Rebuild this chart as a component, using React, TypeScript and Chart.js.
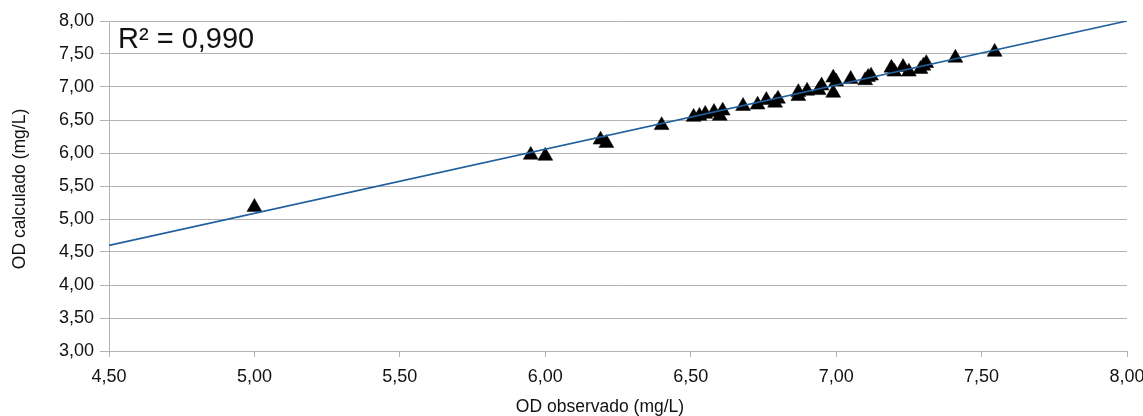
import { useEffect, useRef } from "react";
import { Chart, registerables } from "chart.js";

Chart.register(...registerables);

const observed = [
  5.0, 5.95, 6.0, 6.19, 6.21, 6.4, 6.51, 6.53, 6.55, 6.58, 6.61, 6.6, 6.68, 6.73, 6.76, 6.8, 6.79,
  6.87, 6.9, 6.87, 6.95, 6.94, 6.99, 7.0, 6.99, 7.05, 7.11, 7.12, 7.1, 7.19, 7.23, 7.25, 7.2, 7.3,
  7.31, 7.29, 7.41, 7.545,
];
const calculated = [
  5.18, 5.97, 5.955, 6.2, 6.15, 6.42, 6.545, 6.56, 6.59, 6.62, 6.64, 6.56, 6.71, 6.73, 6.8, 6.82, 6.76,
  6.92, 6.94, 6.86, 7.02, 6.95, 7.14, 7.08, 6.91, 7.12, 7.15, 7.17, 7.1, 7.29, 7.3, 7.23, 7.23, 7.32,
  7.36, 7.27, 7.44, 7.53,
];
const trendX = [4.5, 8.0];
const trendY = [4.6, 8.0];
const xTickValues = [4.5, 5.0, 5.5, 6.0, 6.5, 7.0, 7.5, 8.0];
const yTickValues = [3.0, 3.5, 4.0, 4.5, 5.0, 5.5, 6.0, 6.5, 7.0, 7.5, 8.0];
const rSquaredLabel = "R² = 0,990";
const xTitle = "OD observado (mg/L)";
const yTitle = "OD calculado (mg/L)";

const FONT = "'Liberation Sans', Arial, sans-serif";
const TEXT = "#111111";
const GRID = "#b3b3b3";

const fmt = (v: number) => v.toFixed(2).replace(".", ",");

const textPlugin = {
  id: "textPlugin",
  afterDraw(chart: any) {
    const ctx = chart.ctx as CanvasRenderingContext2D;
    const area = chart.chartArea;
    ctx.save();
    ctx.fillStyle = TEXT;
    ctx.textBaseline = "alphabetic";
    ctx.textAlign = "left";
    ctx.font = `29px ${FONT}`;
    ctx.fillText(rSquaredLabel, area.left + 9, area.top + 27);
    ctx.font = `17.5px ${FONT}`;
    ctx.textAlign = "center";
    ctx.fillText(xTitle, 600, 412);
    ctx.translate(25, 189);
    ctx.rotate(-Math.PI / 2);
    ctx.fillText(yTitle, 0, 0);
    ctx.restore();
  },
};

export default function App() {
  const ref = useRef<HTMLCanvasElement | null>(null);

  useEffect(() => {
    if (!ref.current) return;
    const chart = new Chart(ref.current, {
      type: "scatter",
      data: {
        datasets: [
          {
            type: "line",
            label: "Tendência",
            data: trendX.map((x, i) => ({ x, y: trendY[i] })),
            borderColor: "#22609e",
            borderWidth: 1.7,
            pointRadius: 0,
            fill: false,
            tension: 0,
          },
          {
            label: "OD",
            data: observed.map((x, i) => ({ x, y: calculated[i] })),
            pointStyle: "triangle",
            pointRadius: 8.6,
            pointBackgroundColor: "#000000",
            pointBorderColor: "#000000",
            pointBorderWidth: 0.5,
          },
        ],
      } as any,
      options: {
        animation: false,
        responsive: false,
        devicePixelRatio: 1,
        layout: { padding: { top: 21, right: 16, left: 0, bottom: 0 } },
        plugins: {
          legend: { display: false },
          tooltip: { enabled: false },
          title: { display: false },
        },
        scales: {
          x: {
            type: "linear",
            min: 4.5,
            max: 8.0,
            afterBuildTicks: (s: any) => {
              s.ticks = xTickValues.map((v) => ({ value: v }));
            },
            afterFit: (s: any) => {
              s.height = 65;
              s.paddingLeft = 0;
              s.paddingRight = 0;
            },
            ticks: {
              callback: (v: any) => fmt(Number(v)),
              font: { family: FONT, size: 18 },
              color: TEXT,
              padding: 9,
              maxRotation: 0,
            },
            grid: {
              drawOnChartArea: false,
              drawTicks: true,
              tickLength: 6,
              color: GRID,
            },
            border: { display: true, color: GRID },
          },
          y: {
            type: "linear",
            min: 3.0,
            max: 8.0,
            afterBuildTicks: (s: any) => {
              s.ticks = yTickValues.map((v) => ({ value: v }));
            },
            afterFit: (s: any) => {
              s.width = 109;
            },
            ticks: {
              callback: (v: any) => fmt(Number(v)),
              font: { family: FONT, size: 18 },
              color: TEXT,
              padding: 6,
            },
            grid: {
              drawTicks: true,
              tickLength: 9,
              color: GRID,
            },
            border: { display: true, color: GRID },
          },
        },
      } as any,
      plugins: [textPlugin],
    });
    return () => chart.destroy();
  }, []);

  return (
    <div style={{ position: "fixed", left: 0, top: 0, width: 1143, height: 416, background: "#ffffff" }}>
      <canvas ref={ref} width={1143} height={416} style={{ display: "block" }} />
    </div>
  );
}
